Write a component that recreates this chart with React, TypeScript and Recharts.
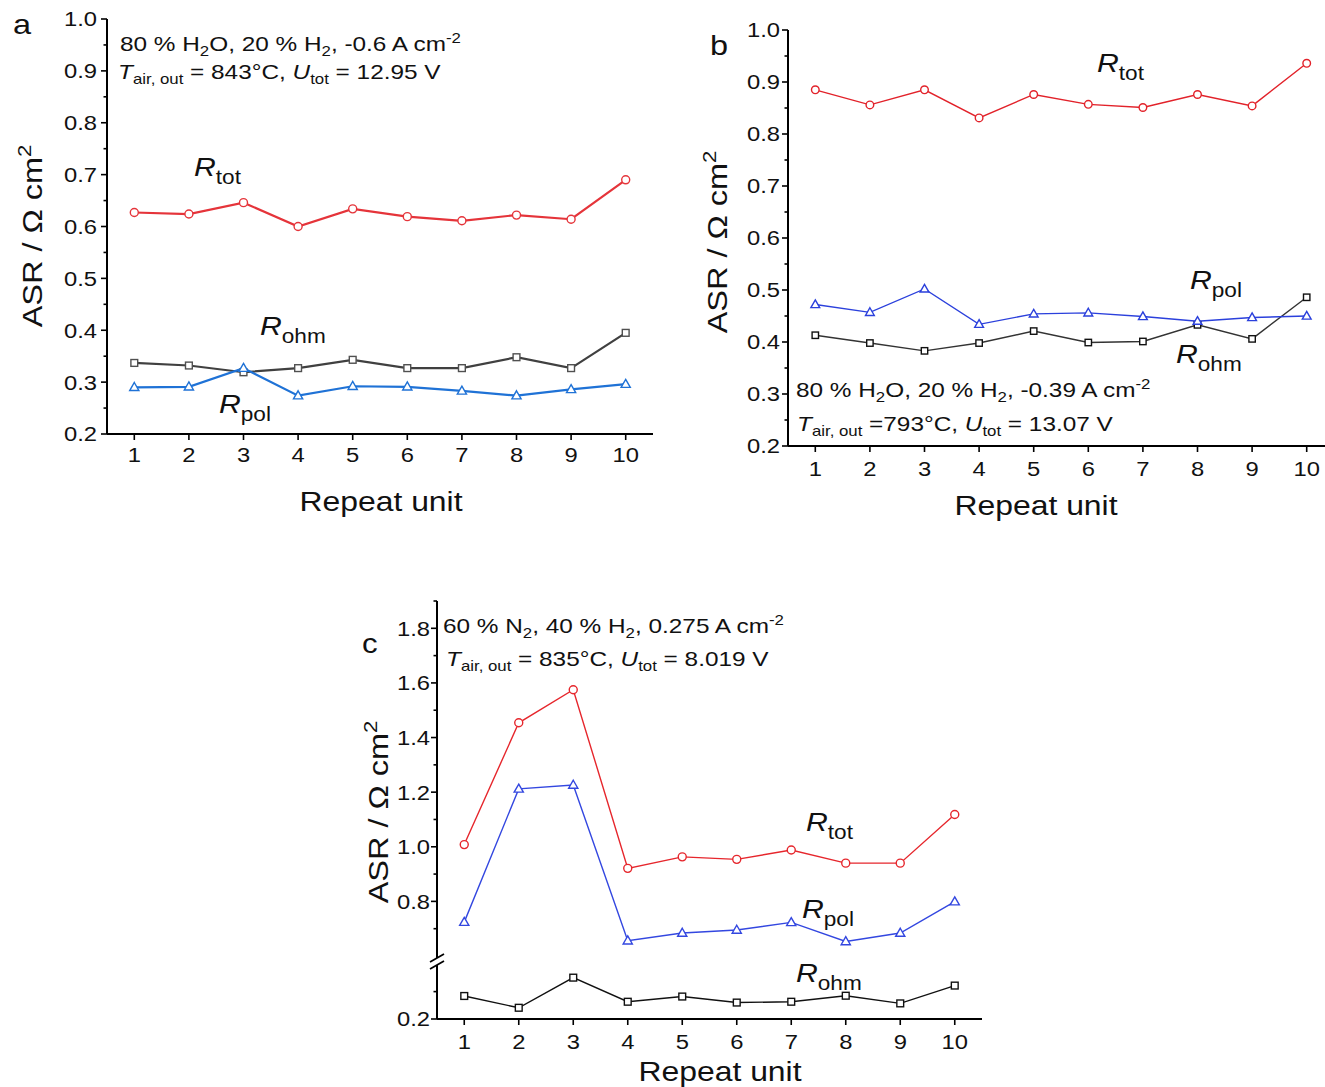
import React from 'react';
import { LineChart, Line, XAxis, YAxis } from 'recharts';

const FONT = '"Liberation Sans", Arial, Helvetica, sans-serif';
const SX = 1.16; // horizontal stretch of the lettering in the reference

// ---- data ----
const units = [1, 2, 3, 4, 5, 6, 7, 8, 9, 10];
const xTicks = [1, 2, 3, 4, 5, 6, 7, 8, 9, 10];

const aTot = [0.627, 0.624, 0.646, 0.6, 0.634, 0.619, 0.611, 0.622, 0.614, 0.69];
const aOhm = [0.337, 0.332, 0.319, 0.327, 0.343, 0.327, 0.327, 0.348, 0.327, 0.395];
const aPol = [0.29, 0.291, 0.327, 0.274, 0.292, 0.291, 0.283, 0.274, 0.286, 0.296];

const bTot = [0.885, 0.856, 0.885, 0.831, 0.876, 0.857, 0.851, 0.876, 0.854, 0.936];
const bPol = [0.472, 0.457, 0.502, 0.434, 0.454, 0.456, 0.449, 0.44, 0.447, 0.45];
const bOhm = [0.413, 0.398, 0.383, 0.398, 0.421, 0.399, 0.401, 0.433, 0.406, 0.486];

const cTot = [1.008, 1.454, 1.575, 0.921, 0.963, 0.954, 0.988, 0.94, 0.94, 1.118];
const cPol = [0.724, 1.212, 1.226, 0.656, 0.684, 0.695, 0.723, 0.653, 0.684, 0.799];
const cOhm = [0.284, 0.241, 0.351, 0.263, 0.282, 0.26, 0.263, 0.285, 0.257, 0.322];

const yTicksAB = [0.2, 0.25, 0.3, 0.35, 0.4, 0.45, 0.5, 0.55, 0.6, 0.65, 0.7, 0.75, 0.8, 0.85, 0.9, 0.95, 1.0];
const yMajorAB = [0.2, 0.3, 0.4, 0.5, 0.6, 0.7, 0.8, 0.9, 1.0];
const yTicksCUp = [0.7, 0.8, 0.9, 1.0, 1.1, 1.2, 1.3, 1.4, 1.5, 1.6, 1.7, 1.8, 1.9];
const yMajorCUp = [0.8, 1.0, 1.2, 1.4, 1.6, 1.8];
const yTicksCLow = [0.2, 0.3];
const yMajorCLow = [0.2];

const build = (tot: number[], pol: number[], ohm: number[]) =>
  units.map((u, i) => ({ unit: u, tot: tot[i], pol: pol[i], ohm: ohm[i] }));

const dataA = build(aTot, aPol, aOhm);
const dataB = build(bTot, bPol, bOhm);
const dataC = build(cTot, cPol, cOhm);

// ---- marker shapes ----
const circleDot = (color: string, r: number, sw: number) => (p: any) => {
  const { cx, cy, index } = p;
  if (cx == null || cy == null) return <g key={index} />;
  return <circle key={index} cx={cx} cy={cy} r={r} fill="#fff" stroke={color} strokeWidth={sw} />;
};
const triDot = (color: string, s: number, sw: number) => (p: any) => {
  const { cx, cy, index } = p;
  if (cx == null || cy == null) return <g key={index} />;
  const d = `M${cx},${cy - s * 1.05} L${cx + s},${cy + s * 0.7} L${cx - s},${cy + s * 0.7} Z`;
  return <path key={index} d={d} fill="#fff" stroke={color} strokeWidth={sw} strokeLinejoin="miter" />;
};
const squareDot = (color: string, s: number, sw: number) => (p: any) => {
  const { cx, cy, index } = p;
  if (cx == null || cy == null) return <g key={index} />;
  return <rect key={index} x={cx - s} y={cy - s} width={2 * s} height={2 * s} fill="#fff" stroke={color} strokeWidth={sw} />;
};

// ---- stretched text ----
const T = ({ x, y, size, anchor, children, dy }: any) => (
  <text
    x={0}
    y={0}
    dy={dy}
    transform={`translate(${x},${y}) scale(${SX},1)`}
    textAnchor={anchor || 'start'}
    fontSize={size}
    fontFamily={FONT}
    fill="#111"
  >
    {children}
  </text>
);

// ---- ticks ----
const yTick = (majors: number[], gap: number) => (p: any) => {
  const { x, y, payload, index } = p;
  const v = payload.value;
  const major = majors.some((m) => Math.abs(m - v) < 1e-6);
  return (
    <g key={index}>
      <line x1={x} x2={x - (major ? 6 : 3.5)} y1={y} y2={y} stroke="#000" strokeWidth={1.6} />
      {major && (
        <T x={x - gap} y={y} dy="0.36em" anchor="end" size={20.5}>
          {v.toFixed(1)}
        </T>
      )}
    </g>
  );
};
const xTick = (gap: number) => (p: any) => {
  const { x, y, payload, index } = p;
  return (
    <g key={index}>
      <line x1={x} x2={x} y1={y} y2={y + 6} stroke="#000" strokeWidth={1.6} />
      <T x={x} y={y + gap} dy="0.36em" anchor="middle" size={20.5}>
        {payload.value}
      </T>
    </g>
  );
};

// ---- rich text ----
type Seg = { t: string; s?: 'sub' | 'sup'; i?: boolean };
function Rich({ x, y, segs, size, small, subShift, supShift, anchor, rotate }: any) {
  let shift = 0;
  const tf = `translate(${x},${y})${rotate ? ` rotate(${rotate})` : ''} scale(${SX},1)`;
  return (
    <text x={0} y={0} fontSize={size} fontFamily={FONT} fill="#111" textAnchor={anchor || 'start'} transform={tf} style={{ whiteSpace: 'pre' }}>
      {segs.map((sg: Seg, k: number) => {
        const target = sg.s === 'sub' ? subShift : sg.s === 'sup' ? -supShift : 0;
        const dy = target - shift;
        shift = target;
        return (
          <tspan key={k} dy={dy} fontSize={sg.s ? small : size} fontStyle={sg.i ? 'italic' : 'normal'}>
            {sg.t}
          </tspan>
        );
      })}
    </text>
  );
}
const Ann = ({ x, y, segs }: any) => <Rich x={x} y={y} segs={segs} size={21} small={14.5} subShift={5} supShift={8} />;
const RLabel = ({ x, y, sub }: any) => (
  <Rich x={x} y={y} segs={[{ t: 'R', i: true }, { t: sub, s: 'sub' }]} size={26} small={19.5} subShift={8} supShift={0} />
);
const YTitle = ({ x, y }: any) => (
  <Rich
    x={x}
    y={y}
    rotate={-90}
    anchor="middle"
    segs={[{ t: 'ASR / Ω cm' }, { t: '2', s: 'sup' }]}
    size={28}
    small={19}
    subShift={0}
    supShift={11}
  />
);
const XTitle = ({ x, y }: any) => (
  <T x={x} y={y} anchor="middle" size={27.5}>
    Repeat unit
  </T>
);

const line1 = (gas: string, cur: string): Seg[] =>
  gas === 'N'
    ? [{ t: '60 % N' }, { t: '2', s: 'sub' }, { t: ', 40 % H' }, { t: '2', s: 'sub' }, { t: ', ' + cur + ' A cm' }, { t: '-2', s: 'sup' }]
    : [{ t: '80 % H' }, { t: '2', s: 'sub' }, { t: 'O, 20 % H' }, { t: '2', s: 'sub' }, { t: ', ' + cur + ' A cm' }, { t: '-2', s: 'sup' }];
const line2 = (eq: string, temp: string, volt: string): Seg[] => [
  { t: 'T', i: true },
  { t: 'air, out', s: 'sub' },
  { t: eq + temp + '°C, ' },
  { t: 'U', i: true },
  { t: 'tot', s: 'sub' },
  { t: ' = ' + volt + ' V' },
];

// ---- panel chart ----
function Panel({ data, left, top, width, height, margin, yWidth, xHeight, domain, yTicks, yMajor, colors, lw, r, showX, frameTop, xGap, yGap }: any) {
  return (
    <div style={{ position: 'absolute', left, top }}>
      <LineChart width={width} height={height} data={data} margin={margin}>
        <XAxis
          dataKey="unit"
          type="number"
          domain={[0.5, 10.5]}
          ticks={xTicks}
          interval={0}
          hide={!showX}
          height={showX ? xHeight : 0}
          tickSize={0}
          tickMargin={0}
          tickLine={false}
          axisLine={{ stroke: '#000', strokeWidth: 2 }}
          tick={xTick(xGap)}
        />
        {frameTop && (
          <XAxis
            xAxisId="top"
            orientation="top"
            dataKey="unit"
            type="number"
            domain={[0.5, 10.5]}
            height={0}
            tick={false}
            tickLine={false}
            axisLine={{ stroke: '#000', strokeWidth: 2 }}
          />
        )}
        <YAxis
          type="number"
          domain={domain}
          ticks={yTicks}
          interval={0}
          width={yWidth}
          tickSize={0}
          tickMargin={0}
          tickLine={false}
          allowDataOverflow
          axisLine={{ stroke: '#000', strokeWidth: 2 }}
          tick={yTick(yMajor, yGap)}
        />
        <YAxis
          yAxisId="right"
          orientation="right"
          type="number"
          domain={domain}
          width={0}
          tick={false}
          tickLine={false}
          axisLine={{ stroke: '#000', strokeWidth: 2 }}
        />
        {colors.ohm && (
          <Line type="linear" dataKey="ohm" stroke={colors.ohmLine} strokeWidth={lw} dot={squareDot(colors.ohm, r - 0.6, 1.4)} activeDot={false} isAnimationActive={false} />
        )}
        {colors.pol && (
          <Line type="linear" dataKey="pol" stroke={colors.pol} strokeWidth={lw} dot={triDot(colors.pol, r + 0.6, 1.4)} activeDot={false} isAnimationActive={false} />
        )}
        {colors.tot && (
          <Line type="linear" dataKey="tot" stroke={colors.tot} strokeWidth={lw} dot={circleDot(colors.tot, r, 1.4)} activeDot={false} isAnimationActive={false} />
        )}
      </LineChart>
    </div>
  );
}

const colorsA = { tot: '#e5343a', pol: '#1f72d6', ohm: '#505050', ohmLine: '#404040' };
const colorsB = { tot: '#e2222a', pol: '#2b40dc', ohm: '#111', ohmLine: '#333' };
const colorsCUp = { tot: '#e6262c', pol: '#3347e0' };
const colorsCLow = { ohm: '#111', ohmLine: '#111' };

export default function App() {
  return (
    <div style={{ position: 'fixed', left: 0, top: 0, width: 1325, height: 1087, overflow: 'hidden', background: '#fff' }}>
      {/* panel a */}
      <Panel
        data={dataA}
        left={0}
        top={0}
        width={660}
        height={520}
        margin={{ top: 19, right: 7, bottom: 0, left: 0 }}
        yWidth={107}
        xHeight={86}
        domain={[0.2, 1.0]}
        yTicks={yTicksAB}
        yMajor={yMajorAB}
        colors={colorsA}
        lw={2.2}
        r={4}
        showX
        frameTop
        xGap={21}
        yGap={10}
      />
      {/* panel b */}
      <Panel
        data={dataB}
        left={680}
        top={0}
        width={660}
        height={530}
        margin={{ top: 30, right: 6, bottom: 0, left: 0 }}
        yWidth={108}
        xHeight={84}
        domain={[0.2, 1.0]}
        yTicks={yTicksAB}
        yMajor={yMajorAB}
        colors={colorsB}
        lw={1.4}
        r={3.8}
        showX
        frameTop
        xGap={23}
        yGap={8}
      />
      {/* panel c upper */}
      <Panel
        data={dataC}
        left={330}
        top={580}
        width={662}
        height={376}
        margin={{ top: 21, right: 10, bottom: 0, left: 0 }}
        yWidth={107}
        xHeight={0}
        domain={[0.6, 1.9]}
        yTicks={yTicksCUp}
        yMajor={yMajorCUp}
        colors={colorsCUp}
        lw={1.4}
        r={4}
        showX={false}
        frameTop
        xGap={23}
        yGap={7}
      />
      {/* panel c lower */}
      <Panel
        data={dataC}
        left={330}
        top={956}
        width={662}
        height={131}
        margin={{ top: 0, right: 10, bottom: 0, left: 0 }}
        yWidth={107}
        xHeight={68}
        domain={[0.2, 0.43]}
        yTicks={yTicksCLow}
        yMajor={yMajorCLow}
        colors={colorsCLow}
        lw={1.4}
        r={4}
        showX
        frameTop={false}
        xGap={23}
        yGap={7}
      />

      <svg width={1325} height={1087} style={{ position: 'absolute', left: 0, top: 0, pointerEvents: 'none' }}>
        {/* panel letters */}
        <T x={13} y={34} size={28}>a</T>
        <T x={710} y={55} size={28}>b</T>
        <T x={362} y={653} size={27}>c</T>

        {/* panel a texts */}
        <Ann x={120} y={51} segs={line1('H', '-0.6')} />
        <Ann x={118} y={79} segs={line2(' = ', '843', '12.95')} />
        <RLabel x={194} y={176} sub="tot" />
        <RLabel x={260} y={335} sub="ohm" />
        <RLabel x={219} y={413} sub="pol" />
        <YTitle x={42} y={236} />
        <XTitle x={381} y={511} />

        {/* panel b texts */}
        <Ann x={796} y={397} segs={line1('H', '-0.39')} />
        <Ann x={797} y={431} segs={line2(' =', '793', '13.07')} />
        <RLabel x={1097} y={72} sub="tot" />
        <RLabel x={1190} y={289} sub="pol" />
        <RLabel x={1176} y={363} sub="ohm" />
        <YTitle x={727} y={242} />
        <XTitle x={1036} y={515} />

        {/* panel c texts */}
        <Ann x={443} y={633} segs={line1('N', '0.275')} />
        <Ann x={446} y={666} segs={line2(' = ', '835', '8.019')} />
        <RLabel x={806} y={831} sub="tot" />
        <RLabel x={802} y={918} sub="pol" />
        <RLabel x={796} y={982} sub="ohm" />
        <YTitle x={388} y={812} />
        <XTitle x={720} y={1081} />

        {/* axis break on panel c */}
        <polygon points="430,962 444,954 444,961 430,969" fill="#fff" />
        <line x1={430} y1={962} x2={444} y2={954} stroke="#000" strokeWidth={1.8} />
        <line x1={430} y1={969} x2={444} y2={961} stroke="#000" strokeWidth={1.8} />
      </svg>
    </div>
  );
}
